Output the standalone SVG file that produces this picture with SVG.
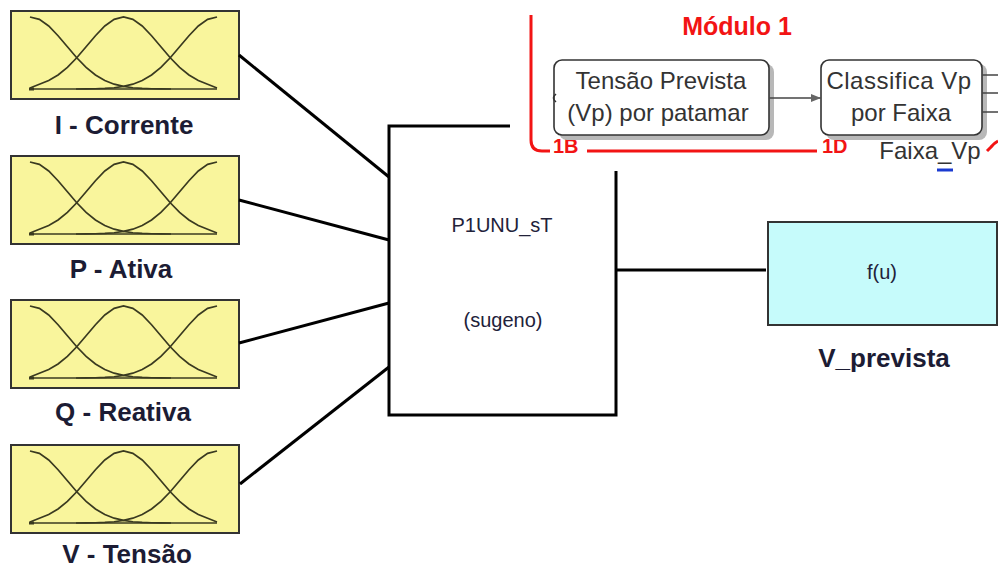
<svg xmlns="http://www.w3.org/2000/svg" width="998" height="568" viewBox="0 0 998 568">
  <style>
    .fz { fill: #f9f59c; stroke: #333; stroke-width: 2; }
    .mf { fill: none; stroke: #3a3a20; stroke-width: 1.7; }
    .lbl { font-family: "Liberation Sans", Arial, sans-serif; font-weight: bold; font-size: 26px; fill: #1c1c34; text-anchor: middle; }
    .wire { fill: none; stroke: #000; stroke-width: 3; }
    .blk { font-family: "Liberation Sans", Arial, sans-serif; font-size: 20px; fill: #22223a; text-anchor: middle; }
    .sub { fill: #fff; stroke: #333; stroke-width: 1.6; }
    .shadow { fill: #b8b8b8; }
    .subtxt { font-family: "Liberation Sans", Arial, sans-serif; font-size: 24px; fill: #333; text-anchor: middle; }
    .red { fill: none; stroke: #f21414; stroke-width: 3; }
    .redtxt { font-family: "Liberation Sans", Arial, sans-serif; font-weight: bold; fill: #f21414; }
  </style>
  <defs>
    <!-- three gaussian membership functions, in block-local coordinates -->
    <g id="mf">
      <path class="mf" d="M19,6 L28.35,8.4 L37.7,15 L47.05,24.7 L56.4,35.8 L65.75,46.8 L75.1,56.4 L84.45,64 L93.8,69.5 L103.15,73.2 L112.5,75.45 L121.85,76.73 L131.2,77.42 L140.55,77.75 L149.9,77.9 L160,78"/>
      <path class="mf" d="M19,77 L28.35,73.2 L37.7,69.5 L47.05,64 L56.4,56.4 L65.75,46.8 L75.1,35.8 L84.45,24.7 L93.8,15 L103.15,8.4 L112.5,6 L121.85,8.4 L131.2,15 L140.55,24.7 L149.9,35.8 L159.25,46.8 L168.6,56.4 L177.95,64 L187.3,69.5 L196.65,73.2 L206,77"/>
      <path class="mf" d="M206,6 L196.65,8.4 L187.3,15 L177.95,24.7 L168.6,35.8 L159.25,46.8 L149.9,56.4 L140.55,64 L131.2,69.5 L121.85,73.2 L112.5,75.45 L103.15,76.73 L93.8,77.42 L84.45,77.75 L75.1,77.9 L65,78"/>
      <path class="mf" d="M19,78 H206"/>
      <rect x="18" y="76.5" width="5" height="3" fill="#3a3a20"/>
    </g>
    <marker id="arr" viewBox="0 0 10 10" refX="10" refY="5" markerWidth="12" markerHeight="10" markerUnits="userSpaceOnUse" orient="auto">
      <path d="M0,1 L10,5 L0,9 Z" fill="#666"/>
    </marker>
  </defs>

  <rect width="998" height="568" fill="#fff"/>

  <!-- fuzzy input blocks -->
  <g id="in-corrente">
    <rect class="fz" x="11" y="11" width="228" height="88"/>
    <use href="#mf" x="11" y="11"/>
    <text class="lbl" x="124" y="134">I - Corrente</text>
  </g>
  <g id="in-ativa">
    <rect class="fz" x="11" y="156" width="228" height="88"/>
    <use href="#mf" x="11" y="156"/>
    <text class="lbl" x="121" y="278">P - Ativa</text>
  </g>
  <g id="in-reativa">
    <rect class="fz" x="11" y="300" width="228" height="88"/>
    <use href="#mf" x="11" y="300"/>
    <text class="lbl" x="123" y="421">Q - Reativa</text>
  </g>
  <g id="in-tensao">
    <rect class="fz" x="11" y="445" width="228" height="88"/>
    <use href="#mf" x="11" y="445"/>
    <text class="lbl" x="127" y="563">V - Tensão</text>
  </g>

  <!-- fuzzy inference system block -->
  <g id="fis">
    <rect x="389" y="126" width="227" height="289" fill="#fff"/>
    <path class="wire" d="M510,126 H389 V415 H616 V171"/>
    <text class="blk" x="502" y="232">P1UNU_sT</text>
    <text class="blk" x="503" y="327">(sugeno)</text>
  </g>

  <!-- function output block -->
  <g id="v-prevista">
    <rect x="768" y="222" width="229" height="103" fill="#c6fbfb" stroke="#333" stroke-width="2"/>
    <text class="blk" x="882" y="279" font-size="21">f(u)</text>
    <text class="lbl" x="884" y="367">V_prevista</text>
  </g>

  <!-- module 1 overlay -->
  <g id="modulo1">
    <text class="redtxt" x="737" y="35" font-size="25" text-anchor="middle">Módulo 1</text>
    <path class="red" d="M531,15 V140 Q531,151 542,151 H550"/>
    <path class="red" d="M587,151 H817"/>
    <text class="redtxt" x="553" y="153" font-size="20">1B</text>
    <text class="redtxt" x="822" y="153" font-size="20">1D</text>
    <path class="red" d="M987,151 L991,147 Q994,143 998,141" stroke-width="2.5"/>
  </g>

  <g id="tensao-prevista">
    <rect class="shadow" x="559" y="64" width="215" height="76" rx="8"/>
    <rect class="sub" x="554" y="60" width="215" height="75" rx="8"/>
    <path d="M556,94 Q551,98 556,102" fill="none" stroke="#333" stroke-width="1.6"/>
    <text class="subtxt" x="661" y="89">Tensão Prevista</text>
    <text class="subtxt" x="658" y="121">(Vp) por patamar</text>
  </g>

  <g id="classifica">
    <rect class="shadow" x="826" y="64" width="161" height="76" rx="8"/>
    <rect class="sub" x="821" y="60" width="161" height="75" rx="8"/>
    <text class="subtxt" x="899" y="89" letter-spacing="0.5">Classifica Vp</text>
    <text class="subtxt" x="901" y="121">por Faixa</text>
    <text class="subtxt" x="930" y="159" font-size="26" fill="#222">Faixa_Vp</text>
    <path d="M937,170 H953" stroke="#1a3ad0" stroke-width="3"/>
  </g>

  <!-- connectors -->
  <g id="connectors">
    <path class="wire" d="M239,55 L389,177"/>
    <path class="wire" d="M239,200 L389,240"/>
    <path class="wire" d="M239,343 L389,303"/>
    <path class="wire" d="M240,484 L389,367"/>
    <path class="wire" d="M616,270 H766"/>
    <path d="M769,98 H821" stroke="#444" stroke-width="1.5" marker-end="url(#arr)"/>
    <path d="M982,75 H998 M982,93 H998 M982,112 H998" stroke="#444" stroke-width="1.5"/>
  </g>
</svg>
